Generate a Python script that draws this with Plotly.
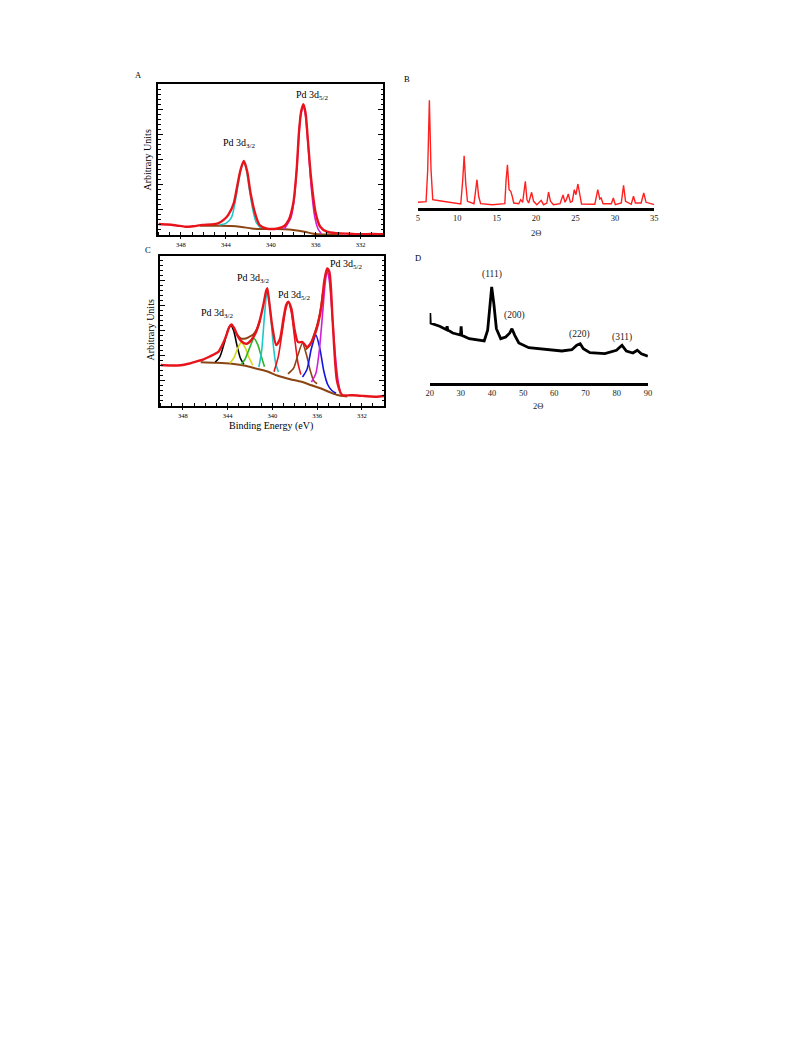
import plotly.graph_objects as go

# The page body has an 8px default margin: size the figure to fit and map page pixels to paper.
OFF = 8
W, H = 793 - 2 * OFF, 1057 - 2 * OFF
def px(x): return (x - OFF) / W
def py(y): return 1 - (y - OFF) / H

# ---------------- Panel A (XPS) ----------------
a_env_x = [350.0, 349.2, 348.4, 347.6, 346.9, 346.1, 345.3, 344.7, 344.2, 343.8, 343.3, 343.0, 342.7, 342.4,
           342.1, 341.8, 341.4, 341.0, 340.4, 339.4, 338.8, 338.4, 338.0, 337.7, 337.5, 337.3, 337.1, 336.9,
           336.7, 336.4, 336.0, 335.6, 335.0, 334.1, 333.0, 332.0, 331.0, 330.0]
a_env_y = [0.44, 0.42, 0.38, 0.33, 0.35, 0.40, 0.42, 0.46, 0.60, 0.79, 1.26, 1.92, 2.58, 2.94,
           2.52, 1.66, 0.86, 0.40, 0.26, 0.26, 0.36, 0.60, 1.26, 2.58, 4.04, 4.90, 5.20, 4.83,
           3.77, 2.19, 0.86, 0.33, 0.13, 0.07, 0.05, 0.03, 0.04, 0.03]
a_cyan_x = [344.6, 344.0, 343.5, 343.1, 342.8, 342.55, 342.4, 342.2, 341.9, 341.6, 341.3, 340.9]
a_cyan_y = [0.40, 0.46, 0.70, 1.50, 2.30, 2.80, 2.90, 2.65, 1.80, 1.00, 0.50, 0.28]
a_mag_x = [338.8, 338.2, 337.9, 337.6, 337.35, 337.1, 336.9, 336.65, 336.4, 336.1, 335.8, 335.5]
a_mag_y = [0.24, 0.70, 1.50, 3.20, 4.75, 5.12, 4.70, 3.40, 1.90, 0.75, 0.25, 0.05]
a_bg_x = [346.3, 344.5, 343.5, 342.6, 341.7, 340.9, 339.5, 338.8, 338.0, 337.0, 336.2, 335.3, 334.0]
a_bg_y = [0.37, 0.37, 0.36, 0.32, 0.26, 0.24, 0.24, 0.23, 0.20, 0.13, 0.05, 0.02, 0.02]

# ---------------- Panel C (XPS) ----------------
c_env_x = [350.0, 349.0, 348.2, 347.5, 346.9, 346.2, 345.6, 344.8, 344.4, 344.1, 343.85, 343.65, 343.4, 343.1,
           342.8, 342.3, 341.9, 341.5, 341.1, 340.8, 340.55, 340.45, 340.3, 340.0, 339.65, 339.3, 339.0,
           338.75, 338.57, 338.3, 338.0, 337.7, 337.3, 336.9, 336.5, 336.2, 335.9, 335.6, 335.35, 335.1,
           334.9, 334.6, 334.2, 333.75, 333.0, 332.4, 331.8, 331.2, 330.7, 330.0]
c_env_y = [1.63, 1.61, 1.62, 1.68, 1.76, 1.85, 1.97, 2.17, 2.50, 2.83, 3.15, 3.26, 3.10, 2.80,
           2.60, 2.48, 2.62, 2.90, 3.45, 4.04, 4.60, 4.71, 4.24, 3.17, 2.43, 2.70, 3.50,
           4.05, 4.17, 3.90, 3.03, 2.55, 2.55, 2.35, 2.55, 2.85, 3.30, 4.00, 5.00, 5.50,
           5.37, 3.37, 0.96, 0.43, 0.42, 0.41, 0.39, 0.37, 0.36, 0.39]
c_bg_x = [346.4, 345.0, 343.6, 342.4, 341.4, 340.5, 339.5, 338.4, 337.4, 336.5, 335.7, 334.9, 334.2, 333.3]
c_bg_y = [1.74, 1.72, 1.68, 1.60, 1.48, 1.38, 1.20, 1.06, 0.96, 0.82, 0.70, 0.55, 0.43, 0.37]
c_black_x = [345.1, 344.7, 344.3, 343.95, 343.7, 343.45, 343.15, 342.85, 342.55]
c_black_y = [1.75, 1.95, 2.50, 3.05, 3.22, 3.00, 2.40, 1.90, 1.66]
c_yellow_x = [343.8, 343.4, 343.05, 342.76, 342.45, 342.1, 341.75]
c_yellow_y = [1.70, 1.95, 2.35, 2.54, 2.35, 1.95, 1.63]
c_green_x = [342.8, 342.4, 342.0, 341.64, 341.3, 341.0, 340.7]
c_green_y = [1.63, 1.90, 2.35, 2.70, 2.45, 2.00, 1.56]
c_cyan_x = [341.2, 340.95, 340.7, 340.45, 340.2, 339.95, 339.7, 339.45]
c_cyan_y = [1.55, 2.20, 3.60, 4.65, 3.90, 2.60, 1.70, 1.35]
c_red_x = [339.85, 339.45, 339.1, 338.8, 338.57, 338.3, 338.0, 337.7, 337.45]
c_red_y = [1.36, 2.00, 3.00, 3.85, 4.15, 3.75, 2.70, 1.70, 1.25]
c_brown_x = [338.6, 338.1, 337.7, 337.3, 336.95, 336.6, 336.3, 336.0]
c_brown_y = [1.28, 1.50, 2.05, 2.50, 2.05, 1.40, 1.00, 0.88]
c_blue_x = [337.3, 336.9, 336.5, 336.1, 335.75, 335.4, 335.05, 334.7, 334.3]
c_blue_y = [1.15, 1.45, 2.30, 2.83, 2.30, 1.40, 0.85, 0.62, 0.50]
c_mag_x = [336.5, 336.1, 335.8, 335.5, 335.25, 335.08, 334.9, 334.65, 334.4, 334.15, 333.9]
c_mag_y = [0.95, 1.30, 2.20, 3.70, 5.00, 5.42, 5.00, 3.70, 2.20, 1.10, 0.50]
c_fit_x = [343.3, 342.9, 342.5, 342.1, 341.7, 341.35, 341.1, None, 337.0, 336.6, 336.3, 336.0, 335.7, 335.45]
c_fit_y = [2.95, 2.72, 2.68, 2.75, 2.85, 3.10, 3.40, None, 2.25, 2.45, 2.80, 3.20, 3.80, 4.60]

# ---------------- Panel B (XRD) ----------------
b_x = [5.0, 6.05, 6.26, 6.47, 6.68, 6.9, 7.73, 8.99, 10.45, 10.7, 10.88, 11.08, 11.3, 12.13, 12.34, 12.51,
       12.72, 12.97, 14.44, 16.04, 16.2, 16.37, 16.58, 16.79, 16.96, 17.17, 17.8, 18.05, 18.3, 18.47, 18.64,
       18.85, 19.06, 19.44, 19.69, 20.1, 20.65, 20.95, 21.37, 21.58, 21.83, 22.2, 23.04, 23.42, 23.67, 23.84,
       24.09, 24.35, 24.6, 24.85, 25.06, 25.31, 25.56, 25.77, 27.45, 27.83, 28.08, 28.25, 28.5, 29.55, 29.8,
       30.05, 30.81, 31.1, 31.35, 32.07, 32.36, 32.6, 33.33, 33.66, 33.95, 35.0]
b_y = [5.7, 6.3, 38.0, 107.7, 38.0, 8.3, 7.3, 5.7, 4.0, 28.0, 52.3, 25.0, 6.7, 4.3, 18.0, 28.3,
       11.7, 4.3, 3.3, 4.3, 28.0, 43.3, 18.3, 16.7, 12.3, 5.0, 4.3, 8.3, 5.7, 15.0, 26.7,
       8.3, 5.0, 15.7, 6.7, 3.3, 7.7, 3.3, 5.0, 16.0, 6.7, 3.3, 4.3, 13.0, 5.7, 8.3,
       14.0, 5.7, 6.7, 18.3, 13.3, 24.0, 11.7, 4.0, 3.7, 18.3, 9.0, 10.0, 4.3, 4.3, 10.0,
       3.3, 5.0, 22.7, 6.7, 3.7, 11.7, 5.0, 5.0, 15.0, 5.7, 3.3]

# ---------------- Panel D (XRD) ----------------
d_x = [20.0, 20.05, 20.2, 23.2, 25.4, 25.6, 25.8, 27.4, 29.9, 30.1, 30.3, 32.7, 35.9, 37.5, 38.6, 39.3,
       39.9, 40.6, 41.4, 42.8, 44.4, 45.7, 46.4, 47.3, 48.6, 51.8, 57.1, 62.4, 65.6, 67.2, 68.3, 69.3,
       71.4, 76.2, 79.9, 81.7, 83.1, 85.2, 86.6, 87.9, 90.0]
d_y = [61.0, 70.0, 60.0, 56.7, 53.3, 56.7, 53.0, 50.0, 48.0, 56.7, 47.7, 44.3, 42.7, 42.0, 52.7, 79.0,
       96.0, 79.0, 54.3, 44.3, 46.0, 50.0, 54.3, 47.7, 40.0, 35.3, 33.3, 32.0, 33.3, 37.7, 39.3, 34.3,
       30.3, 29.3, 32.7, 37.7, 32.0, 30.0, 32.7, 29.3, 26.7]
d_labels = ["(111)", "(200)", "(220)", "(311)"]

a_tick_vals = [348, 344, 340, 336, 332]
b_tick_vals = [5, 10, 15, 20, 25, 30, 35]
d_tick_vals = [20, 30, 40, 50, 60, 70, 80, 90]

SERIF = "Liberation Serif"
RED = "#e8141c"
BROWN = "#8b4513"

fig = go.Figure()

def xps(x, y, color, width, xa, ya):
    fig.add_trace(go.Scatter(x=x, y=y, mode="lines", xaxis=xa, yaxis=ya, showlegend=False,
                             line=dict(color=color, width=width, shape="spline", smoothing=0.7),
                             hoverinfo="skip"))

# A
xps(a_bg_x, a_bg_y, BROWN, 2, "x", "y")
xps(a_cyan_x, a_cyan_y, "#1fc8c8", 1.6, "x", "y")
xps(a_mag_x, a_mag_y, "#d21fd2", 1.6, "x", "y")
xps(a_env_x, a_env_y, RED, 2.4, "x", "y")

# C
xps(c_bg_x, c_bg_y, BROWN, 2, "x3", "y3")
xps(c_black_x, c_black_y, "#000000", 1.6, "x3", "y3")
xps(c_yellow_x, c_yellow_y, "#d6d61a", 1.6, "x3", "y3")
xps(c_green_x, c_green_y, "#2db52d", 1.6, "x3", "y3")
xps(c_cyan_x, c_cyan_y, "#1fc8c8", 1.6, "x3", "y3")
xps(c_red_x, c_red_y, RED, 1.6, "x3", "y3")
xps(c_brown_x, c_brown_y, BROWN, 1.6, "x3", "y3")
xps(c_blue_x, c_blue_y, "#1414e0", 1.6, "x3", "y3")
xps(c_mag_x, c_mag_y, "#d21fd2", 1.6, "x3", "y3")
xps(c_fit_x, c_fit_y, BROWN, 2, "x3", "y3")
xps(c_env_x, c_env_y, RED, 2.4, "x3", "y3")

# B
fig.add_trace(go.Scatter(x=b_x, y=b_y, mode="lines", xaxis="x2", yaxis="y2", showlegend=False,
                         line=dict(color="#ff2020", width=1.4), hoverinfo="skip"))
# D
fig.add_trace(go.Scatter(x=d_x, y=d_y, mode="lines", xaxis="x4", yaxis="y4", showlegend=False,
                         line=dict(color="#000000", width=2.8), hoverinfo="skip"))

xps_x = dict(range=[350, 330], showline=True, linewidth=2, linecolor="black", mirror=True,
             ticks="outside", ticklen=2, tickwidth=1, tickcolor="black",
             tickmode="array", tickvals=a_tick_vals,
             minor=dict(dtick=1, tick0=0, ticks="inside", ticklen=3, tickwidth=1, tickcolor="black"),
             tickfont=dict(family=SERIF, size=6.5, color="black"), showgrid=False, zeroline=False)
xps_y = dict(range=[0, 6], showline=True, linewidth=2, linecolor="black", mirror="ticks",
             ticks="inside", ticklen=5, tickwidth=1, tickcolor="black", dtick=1, tick0=0,
             minor=dict(dtick=0.2, tick0=0, ticks="inside", ticklen=2.5, tickwidth=1, tickcolor="black"),
             showticklabels=False, showgrid=False, zeroline=False)
xrd_x = dict(showline=True, linewidth=3, linecolor="black", ticks="", showgrid=False, zeroline=False,
             tickfont=dict(family=SERIF, size=8.5, color="#222222"), tickmode="array")

fig.update_layout(
    width=W, height=H, margin=dict(l=0, r=0, t=0, b=0),
    paper_bgcolor="white", plot_bgcolor="white", showlegend=False,
    xaxis=dict(domain=[px(156), px(383)], anchor="y", **xps_x),
    yaxis=dict(domain=[py(235), py(84)], anchor="x", **xps_y),
    xaxis3=dict(domain=[px(158), px(384)], anchor="y3", **xps_x),
    yaxis3=dict(domain=[py(405.7), py(256)], anchor="x3", **xps_y),
    xaxis2=dict(domain=[px(418), px(657)], anchor="y2", range=[5, 35], tickvals=b_tick_vals, **xrd_x),
    yaxis2=dict(domain=[py(208), py(95)], anchor="x2", range=[0, 113], visible=False),
    xaxis4=dict(domain=[px(430), px(650.5)], anchor="y4", range=[20, 90], tickvals=d_tick_vals, **xrd_x),
    yaxis4=dict(domain=[py(383), py(278)], anchor="x4", range=[0, 105], visible=False),
)

def ann(x, y, text, size, rot=0, color="black"):
    fig.add_annotation(x=px(x), y=py(y), xref="paper", yref="paper", text=text, showarrow=False,
                       xanchor="center", yanchor="middle", textangle=rot,
                       font=dict(family=SERIF, size=size, color=color))

# Panel letters
ann(136, 75, "A", 8.5)
ann(407, 79, "B", 8.5)
ann(145, 250, "C", 8.5)
ann(418, 258, "D", 8.5)

# A labels
ann(145, 160, "Arbitrary Units", 10, rot=-90)
ann(238, 143, "Pd 3d<sub>3/2</sub>", 10)
ann(312, 96, "Pd 3d<sub>5/2</sub>", 10)

# C labels
ann(147, 330, "Arbitrary Units", 10, rot=-90)
ann(270, 425.5, "Binding Energy (eV)", 10)
ann(216, 313, "Pd 3d<sub>3/2</sub>", 10)
ann(252, 278, "Pd 3d<sub>3/2</sub>", 10)
ann(293, 296, "Pd 3d<sub>5/2</sub>", 10)
ann(346, 265, "Pd 3d<sub>5/2</sub>", 10)

# XRD titles
ann(537, 233, "2Θ", 8.5, color="#222222")
ann(539, 406, "2Θ", 8.5, color="#222222")

# D peak labels
d_label_pos = [(492.5, 274), (516, 316), (581.5, 334), (624, 337)]
for (lx, ly), t in zip(d_label_pos, d_labels):
    ann(lx, ly, t, 9.5, color="#222222")

fig.write_html("out.html")
